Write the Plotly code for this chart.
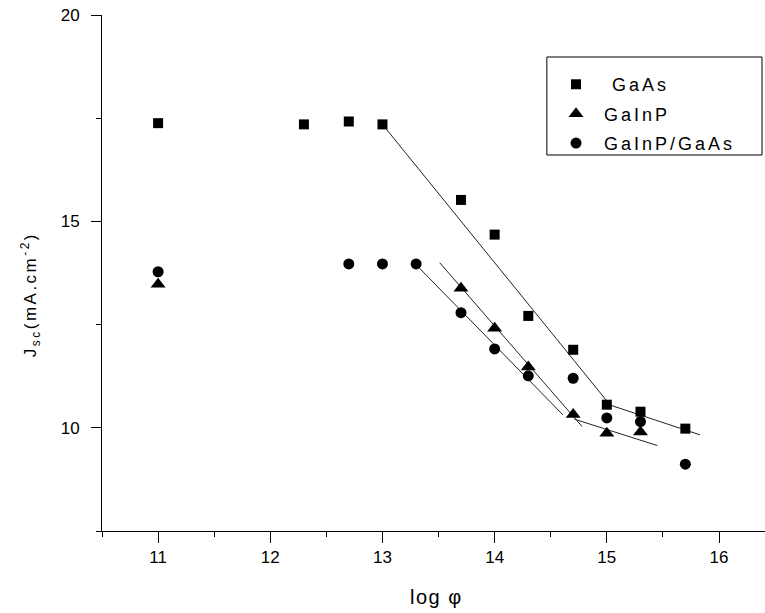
import plotly.graph_objects as go

# ---- data ----
gaas_x = [11.0, 12.3, 12.7, 13.0, 13.7, 14.0, 14.3, 14.7, 15.0, 15.3, 15.7]
gaas_y = [17.38, 17.35, 17.42, 17.35, 15.52, 14.68, 12.71, 11.89, 10.56, 10.39, 9.98]

gainp_x = [11.0, 13.7, 14.0, 14.3, 14.7, 15.0, 15.3]
gainp_y = [13.48, 13.38, 12.41, 11.47, 10.32, 9.87, 9.90]

tandem_x = [11.0, 12.7, 13.0, 13.3, 13.7, 14.0, 14.3, 14.7, 15.0, 15.3, 15.7]
tandem_y = [13.78, 13.97, 13.97, 13.97, 12.79, 11.91, 11.26, 11.20, 10.24, 10.15, 9.12]

# fitted straight-line segments
fit_gaas_x = [13.0, 15.03, 15.83]
fit_gaas_y = [17.35, 10.55, 9.83]
fit_gainp1_x = [13.51, 14.78]
fit_gainp1_y = [14.0, 10.03]
fit_gainp2_x = [14.71, 15.45]
fit_gainp2_y = [10.21, 9.57]
fit_tandem_x = [13.3, 14.61]
fit_tandem_y = [13.95, 10.31]

names = ["GaAs", "GaInP", "GaInP/GaAs"]
x_ticks = [11, 12, 13, 14, 15, 16]
x_minor = [10.5, 11.5, 12.5, 13.5, 14.5, 15.5, 16.5]
y_ticks = [10, 15, 20]
y_minor = [7.5, 12.5, 17.5]

FONT = "Liberation Sans, Arial, sans-serif"


def spaced(t, px):
    return '<span style="letter-spacing:%spx">%s</span>' % (px, t)


fig = go.Figure()

line_style = dict(color="#222222", width=1)
for fx, fy in [(fit_gaas_x, fit_gaas_y), (fit_gainp1_x, fit_gainp1_y),
               (fit_gainp2_x, fit_gainp2_y), (fit_tandem_x, fit_tandem_y)]:
    fig.add_trace(go.Scatter(x=fx, y=fy, mode="lines", line=line_style,
                             showlegend=False, hoverinfo="skip"))

fig.add_trace(go.Scatter(x=gaas_x, y=gaas_y, mode="markers",
                         name=spaced("\u00a0\u00a0" + names[0], 3),
                         legendgroup="a",
                         marker=dict(symbol="square", size=10, color="black")))
fig.add_trace(go.Scatter(x=gainp_x, y=gainp_y, mode="markers",
                         name=spaced("\u00a0" + names[1], 3),
                         legendgroup="b",
                         marker=dict(symbol="triangle-up", size=13, color="black")))
fig.add_trace(go.Scatter(x=tandem_x, y=tandem_y, mode="markers",
                         name=spaced("\u00a0" + names[2], 3),
                         legendgroup="c",
                         marker=dict(symbol="circle", size=11, color="black")))

fig.update_layout(
    width=765, height=613,
    margin=dict(l=102, r=0, t=15, b=82),
    paper_bgcolor="white", plot_bgcolor="white",
    font=dict(family=FONT, color="black", size=16),
    showlegend=True,
    legend=dict(x=0.6848, y=0.901, xanchor="left", yanchor="top",
                borderwidth=0, bgcolor="rgba(0,0,0,0)",
                font=dict(family=FONT, size=18, color="black"),
                traceorder="grouped", tracegroupgap=3,
                itemwidth=30),
    shapes=[dict(type="rect", xref="paper", yref="paper",
                 x0=0.671, x1=0.9955, y0=0.7287, y1=0.9186,
                 line=dict(color="black", width=1), fillcolor="rgba(0,0,0,0)")],
    annotations=[
        dict(text=spaced("J<sub>sc</sub>(mA.cm<sup>-2</sup>)", 2.5),
             xref="paper", yref="paper", x=-0.1086, y=0.459,
             xanchor="center", yanchor="middle", textangle=-90,
             showarrow=False, font=dict(family=FONT, size=17)),
        dict(text=spaced("log \u03c6", 1.5),
             xref="paper", yref="paper", x=0.505, y=-0.128,
             xanchor="center", yanchor="middle",
             showarrow=False, font=dict(family=FONT, size=20)),
    ],
)

fig.update_xaxes(
    range=[10.5, 16.41], showgrid=False, zeroline=False,
    showline=True, linecolor="black", linewidth=1,
    tickmode="array", tickvals=x_ticks, ticktext=[str(v) for v in x_ticks],
    ticks="outside", ticklen=11, tickwidth=1, tickcolor="black",
    tickfont=dict(family=FONT, size=17),
    minor=dict(tickvals=x_minor, ticks="outside", ticklen=5,
               tickwidth=1, tickcolor="black"),
)
fig.update_yaxes(
    range=[7.5, 20], showgrid=False, zeroline=False,
    showline=True, linecolor="black", linewidth=1,
    tickmode="array", tickvals=y_ticks, ticktext=[str(v) for v in y_ticks],
    ticks="outside", ticklen=10, tickwidth=1, tickcolor="black",
    ticklabelstandoff=8,
    tickfont=dict(family=FONT, size=17),
    minor=dict(tickvals=y_minor, ticks="outside", ticklen=5,
               tickwidth=1, tickcolor="black"),
)

fig.write_html("out.html")
